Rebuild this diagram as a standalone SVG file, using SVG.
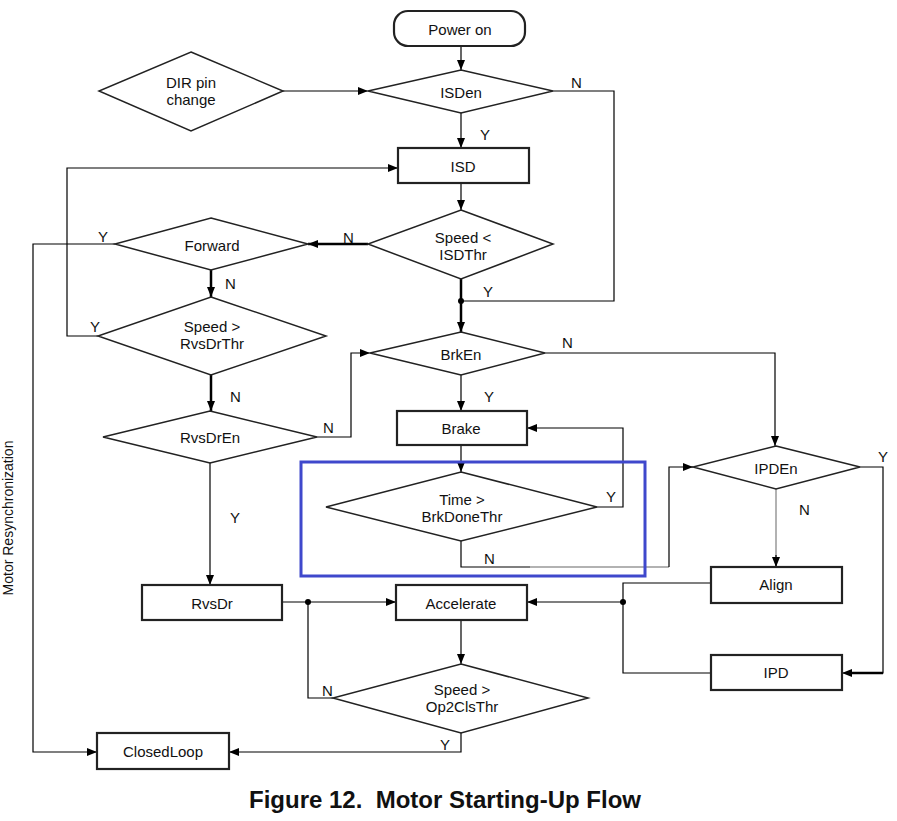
<svg xmlns="http://www.w3.org/2000/svg" width="897" height="821" viewBox="0 0 897 821">
<defs>
<marker id="ah" markerWidth="10" markerHeight="8" refX="10" refY="4" orient="auto" markerUnits="userSpaceOnUse"><path d="M0,0 L10,4 L0,8 Z" fill="#000"/></marker>
<style>
.box{fill:#fff;stroke:#222;stroke-width:2.2}
.dia{fill:#fff;stroke:#222;stroke-width:1.5}
.t{font-family:"Liberation Sans",Arial,sans-serif;font-size:15px;fill:#111;text-anchor:middle;dominant-baseline:central}
.lb{font-family:"Liberation Sans",Arial,sans-serif;font-size:15px;fill:#111}
.c{fill:none;stroke:#000;stroke-width:1.2}
.ck{fill:none;stroke:#000;stroke-width:2.5}
.g{fill:none;stroke:#999;stroke-width:1.5}
</style>
</defs>
<rect width="897" height="821" fill="#fff"/>

<g id="connectors">
<path class="c" d="M461,46 V70" marker-end="url(#ah)"/>
<path class="c" d="M283,91 H368" marker-end="url(#ah)"/>
<path class="c" d="M553,91 H614 V301 H461"/>
<path class="c" d="M461,113 V148" marker-end="url(#ah)"/>
<path class="c" d="M461,183 V210" marker-end="url(#ah)"/>
<path class="ck" d="M461,279 V332" marker-end="url(#ah)"/>
<circle cx="461" cy="301" r="3" fill="#000"/>
<path class="ck" d="M368,244 H308" marker-end="url(#ah)"/>
<path class="c" d="M115,244 H33 V752 H97" marker-end="url(#ah)"/>
<path class="ck" d="M211,270 V297" marker-end="url(#ah)"/>
<path class="c" d="M98,336 H67 V168 H398" marker-end="url(#ah)"/>
<path class="ck" d="M211,375 V411" marker-end="url(#ah)"/>
<path class="c" d="M317,437 H351 V353 H370" marker-end="url(#ah)"/>
<path class="c" d="M545,353 H775 V446" marker-end="url(#ah)"/>
<path class="c" d="M461,375 V411" marker-end="url(#ah)"/>
<path class="c" d="M461,445 V472" marker-end="url(#ah)"/>
<path class="c" d="M597,507 H623 V428 H527" marker-end="url(#ah)"/>
<path class="c" d="M461,541 V567 H530"/>
<path class="g" d="M530,567 H669"/>
<path class="c" d="M669,567 V467 H693" marker-end="url(#ah)"/>
<path class="c" d="M860,467 H883 V673 H842" marker-end="url(#ah)"/>
<path class="ck" d="M883,673 H852"/>
<path class="g" d="M776,489 V567"/>
<path class="c" d="M776,555 V567" marker-end="url(#ah)"/>
<path class="c" d="M711,583 H623 V673 H711"/>
<circle cx="623" cy="602" r="3" fill="#000"/>
<path class="c" d="M623,602 H527" marker-end="url(#ah)"/>
<path class="c" d="M210,463 V585" marker-end="url(#ah)"/>
<path class="c" d="M282,602 H396" marker-end="url(#ah)"/>
<circle cx="308" cy="602" r="3" fill="#000"/>
<path class="c" d="M308,602 V698 H333"/>
<path class="c" d="M461,620 V664" marker-end="url(#ah)"/>
<path class="c" d="M461,733 V752 H229" marker-end="url(#ah)"/>
</g>

<g id="labels">
<text class="lb" x="571" y="88">N</text>
<text class="lb" x="480" y="140">Y</text>
<text class="lb" x="483" y="297">Y</text>
<text class="lb" x="343" y="243">N</text>
<text class="lb" x="98" y="242">Y</text>
<text class="lb" x="225" y="289">N</text>
<text class="lb" x="90" y="332">Y</text>
<text class="lb" x="230" y="402">N</text>
<text class="lb" x="323" y="433">N</text>
<text class="lb" x="230" y="523">Y</text>
<text class="lb" x="562" y="348">N</text>
<text class="lb" x="484" y="402">Y</text>
<text class="lb" x="606" y="502">Y</text>
<text class="lb" x="484" y="564">N</text>
<text class="lb" x="878" y="462">Y</text>
<text class="lb" x="799" y="515">N</text>
<text class="lb" x="322" y="696">N</text>
<text class="lb" x="440" y="750">Y</text>
</g>

<rect x="301" y="462" width="344" height="114" fill="none" stroke="#3F48CC" stroke-width="3"/>

<g id="poweron"><rect class="box" x="394" y="11" width="131" height="35" rx="14" stroke-width="1.5"/><text class="t" x="460" y="29">Power on</text></g>
<g id="dirpin"><polygon class="dia" points="191,52 283,91 191,131 99,91"/><text class="t" x="191" y="82">DIR pin</text><text class="t" x="191" y="99">change</text></g>
<g id="isden"><polygon class="dia" points="461,70 553,91 461,113 368,91"/><text class="t" x="461" y="92">ISDen</text></g>
<g id="isd"><rect class="box" x="398" y="148" width="131" height="35"/><text class="t" x="463" y="166">ISD</text></g>
<g id="speedisd"><polygon class="dia" points="461,210 553,244 461,279 368,244"/><text class="t" x="463" y="237">Speed &lt;</text><text class="t" x="463" y="254">ISDThr</text></g>
<g id="forward"><polygon class="dia" points="211,218 308,244 211,270 115,244"/><text class="t" x="212" y="245">Forward</text></g>
<g id="speedrvs"><polygon class="dia" points="211,297 326,336 211,375 98,336"/><text class="t" x="212" y="326">Speed &gt;</text><text class="t" x="212" y="343">RvsDrThr</text></g>
<g id="rvsdren"><polygon class="dia" points="210,411 317,437 210,463 103,437"/><text class="t" x="210" y="437">RvsDrEn</text></g>
<g id="brken"><polygon class="dia" points="461,332 545,353 461,375 370,353"/><text class="t" x="461" y="354">BrkEn</text></g>
<g id="brake"><rect class="box" x="397" y="411" width="130" height="34"/><text class="t" x="461" y="428">Brake</text></g>
<g id="timebrk"><polygon class="dia" points="461,472 597,507 461,541 326,507"/><text class="t" x="462" y="499">Time &gt;</text><text class="t" x="462" y="516">BrkDoneThr</text></g>
<g id="ipden"><polygon class="dia" points="776,446 860,467 776,489 693,467"/><text class="t" x="776" y="468">IPDEn</text></g>
<g id="align"><rect class="box" x="711" y="567" width="131" height="36"/><text class="t" x="776" y="584">Align</text></g>
<g id="ipd"><rect class="box" x="711" y="655" width="131" height="35"/><text class="t" x="776" y="672">IPD</text></g>
<g id="accelerate"><rect class="box" x="396" y="585" width="131" height="35"/><text class="t" x="461" y="603">Accelerate</text></g>
<g id="rvsdr"><rect class="box" x="142" y="585" width="140" height="35"/><text class="t" x="212" y="603">RvsDr</text></g>
<g id="speedop"><polygon class="dia" points="461,664 588,698 461,733 333,698"/><text class="t" x="462" y="689">Speed &gt;</text><text class="t" x="462" y="706">Op2ClsThr</text></g>
<g id="closedloop"><rect class="box" x="97" y="733" width="132" height="36"/><text class="t" x="163" y="751">ClosedLoop</text></g>

<text class="t" transform="translate(8,518) rotate(-90)" style="font-size:14px">Motor Resynchronization</text>
<text x="445" y="808" font-family="Liberation Sans,Arial,sans-serif" font-size="24" font-weight="bold" text-anchor="middle" fill="#111" xml:space="preserve">Figure 12.  Motor Starting-Up Flow</text>
</svg>
